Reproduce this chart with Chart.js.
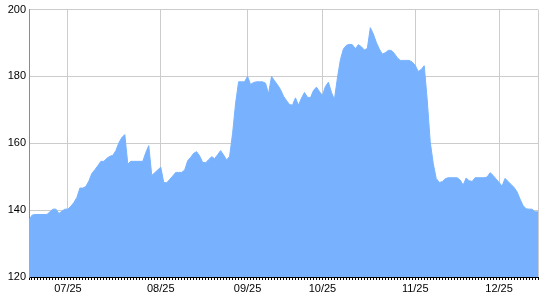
<!DOCTYPE html>
<html>
<head>
  <meta charset="UTF-8">
  <title>Area chart</title>
  <script src="https://cdn.jsdelivr.net/npm/chart.js"></script>
  <style>
    html, body { margin: 0; padding: 0; background: #fff; }
    #wrap { width: 540px; height: 300px; }
  </style>
</head>
<body>
  <div id="wrap"><canvas id="chart"></canvas></div>

  <script>
    // one value per trading session
    const values = [
      137.0, 138.5, 138.7, 138.7, 138.7, 138.7, 138.7, 139.5, 140.3, 140.3,
      139.0, 139.7, 140.3, 140.3, 141.2, 142.3, 143.8, 146.6, 146.6, 147.1,
      148.7, 151.0, 152.1, 153.3, 154.6, 154.6, 155.5, 156.1, 156.4, 157.8,
      160.1, 161.7, 162.6, 153.8, 154.6, 154.6, 154.6, 154.6, 154.6, 157.2,
      159.3, 150.4, 151.2, 152.0, 152.9, 148.3, 148.2, 149.2, 150.2, 151.3,
      151.3, 151.3, 152.0, 154.8, 155.8, 157.0, 157.5, 156.2, 154.3, 154.2,
      155.1, 156.0, 155.4, 156.6, 157.8, 156.5, 155.0, 156.1, 163.0, 172.0,
      178.4, 178.4, 178.4, 180.0, 177.6, 178.2, 178.4, 178.4, 178.4, 178.0,
      174.8, 180.0, 178.7, 177.5, 176.1, 174.1, 172.8, 171.6, 171.4, 173.6,
      171.4, 173.5, 175.2, 173.8, 173.6, 175.8, 176.8, 175.5, 174.3, 177.0,
      178.3, 175.3, 173.1, 179.5, 185.0, 188.2, 189.3, 189.6, 189.5, 188.3,
      189.5, 188.9, 187.9, 188.4, 194.6, 192.7, 190.2, 188.2, 186.7, 187.1,
      187.8, 187.8, 186.9, 185.6, 184.8, 184.8, 184.8, 184.8, 184.3, 183.3,
      181.5, 182.1, 183.2, 173.0, 160.5, 154.0, 149.5, 148.3, 148.5, 149.4,
      149.7, 149.7, 149.7, 149.7, 149.0, 147.5, 149.6, 148.8, 148.6, 149.7,
      149.7, 149.7, 149.7, 149.9, 151.2, 150.4, 149.3, 148.3, 147.2, 149.5,
      148.6, 147.7, 146.8, 145.5, 143.3, 141.4, 140.4, 140.3, 140.3, 139.5,
      139.5
    ];
    const sessions = values.map((v, i) => i);

    // month labels and the session they sit on
    const tickLabels = ['07/25', '08/25', '09/25', '10/25', '11/25', '12/25'];
    const tickSessions = [13, 44, 73, 98, 129, 157];

    const lastSession = sessions[sessions.length - 1];
    const labelAt = v => {
      const k = tickSessions.indexOf(v);
      return k < 0 ? '' : tickLabels[k];
    };

    Chart.defaults.font.family = 'Arial, "Liberation Sans", sans-serif';
    Chart.defaults.font.size = 11;
    Chart.defaults.color = '#000';

    const ctx = document.getElementById('chart').getContext('2d');
    new Chart(ctx, {
      type: 'line',
      data: {
        datasets: [{
          data: sessions.map((s, i) => ({ x: s, y: values[i] })),
          backgroundColor: '#78b2ff',
          borderColor: '#78b2ff',
          borderWidth: 1,
          pointRadius: 0,
          tension: 0,
          fill: 'start'
        }]
      },
      options: {
        responsive: true,
        maintainAspectRatio: false,
        animation: false,
        layout: { padding: { top: 8, right: 1, left: 0, bottom: 0 } },
        plugins: { legend: { display: false }, tooltip: { enabled: false } },
        scales: {
          x: {
            type: 'linear',
            min: 0,
            max: lastSession,
            afterBuildTicks: scale => {
              scale.ticks = sessions.map(s => ({ value: s }));
            },
            afterFit: scale => { scale.height = 23; },
            ticks: {
              autoSkip: false,
              maxRotation: 0,
              padding: 2,
              callback: v => labelAt(v)
            },
            grid: {
              color: c => (tickSessions.includes(c.tick.value) || c.tick.value === lastSession) ? '#cccccc' : 'rgba(0,0,0,0)',
              tickColor: '#000',
              tickLength: 3
            },
            border: { color: '#000', width: 1 }
          },
          y: {
            min: 120,
            max: 200,
            afterFit: scale => { scale.width = 29; },
            ticks: { stepSize: 20, padding: 3 },
            grid: { color: '#cccccc', drawTicks: false },
            border: { color: '#8c8c8c', width: 1 }
          }
        }
      }
    });
  </script>
</body>
</html>
